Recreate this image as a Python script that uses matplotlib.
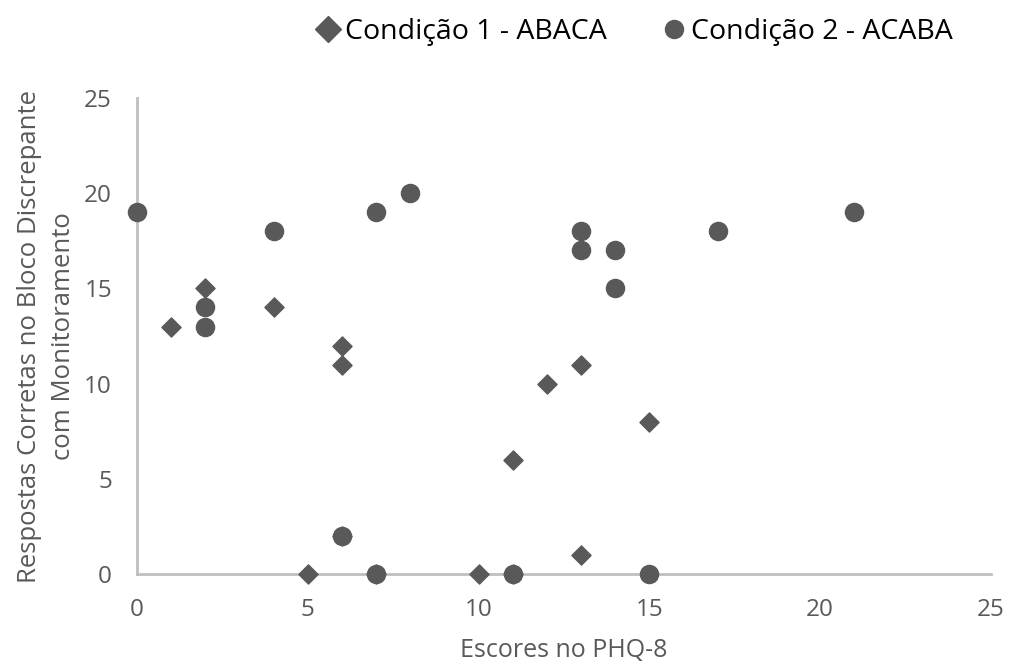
import matplotlib
matplotlib.use('Agg')
import matplotlib.pyplot as plt
from matplotlib.lines import Line2D

plt.rcParams['font.family'] = ['Open Sans', 'DejaVu Sans']

# Condição 1 - ABACA (diamonds)
c1_x = [1, 2, 4, 6, 6, 6, 5, 7, 10, 11, 11, 12, 13, 13, 15]
c1_y = [13, 15, 14, 12, 11, 2, 0, 0, 0, 0, 6, 10, 11, 1, 8]

# Condição 2 - ACABA (circles)
c2_x = [0, 2, 2, 4, 6, 7, 7, 8, 11, 13, 13, 14, 14, 15, 17, 21]
c2_y = [19, 14, 13, 18, 2, 19, 0, 20, 0, 18, 17, 17, 15, 0, 18, 19]

labels = ['Condição 1 - ABACA', 'Condição 2 - ACABA']
ticks = [0, 5, 10, 15, 20, 25]

marker_color = '#595959'
axis_color = '#bfbfbf'
text_color = '#595959'

fig = plt.figure(figsize=(10.1, 6.65), dpi=100)
ax = fig.add_axes([0.1356, 0.1368, 0.8455, 0.7158])

ax.scatter(c1_x, c1_y, marker='D', s=95, color=marker_color, zorder=3,
           clip_on=False)
ax.scatter(c2_x, c2_y, marker='o', s=170, color=marker_color, zorder=3,
           clip_on=False)

ax.set_xlim(0, 25)
ax.set_ylim(0, 25)
ax.set_xticks(ticks)
ax.set_yticks(ticks)

for s in ['top', 'right']:
    ax.spines[s].set_visible(False)
for s in ['left', 'bottom']:
    ax.spines[s].set_color(axis_color)
    ax.spines[s].set_linewidth(2)

ax.tick_params(length=0, labelsize=17.5, labelcolor=text_color)
ax.tick_params(axis='x', pad=17)
ax.tick_params(axis='y', pad=18)

ax.set_xlabel('Escores no PHQ-8', fontsize=18, color=text_color, labelpad=12)
ax.set_ylabel('Respostas Corretas no Bloco Discrepante\ncom Monitoramento',
              fontsize=18.5, color=text_color, labelpad=6, linespacing=1.45)

handles = [
    Line2D([], [], linestyle='none', marker='D', markersize=13.5,
           color=marker_color),
    Line2D([], [], linestyle='none', marker='o', markersize=13,
           color=marker_color),
]
fig.legend(handles, labels, loc='center', bbox_to_anchor=(0.627, 0.952),
           ncol=2, frameon=False, fontsize=20.5, handletextpad=0.12,
           handlelength=1.0, columnspacing=1.85)

fig.savefig('out.png', dpi=100)
